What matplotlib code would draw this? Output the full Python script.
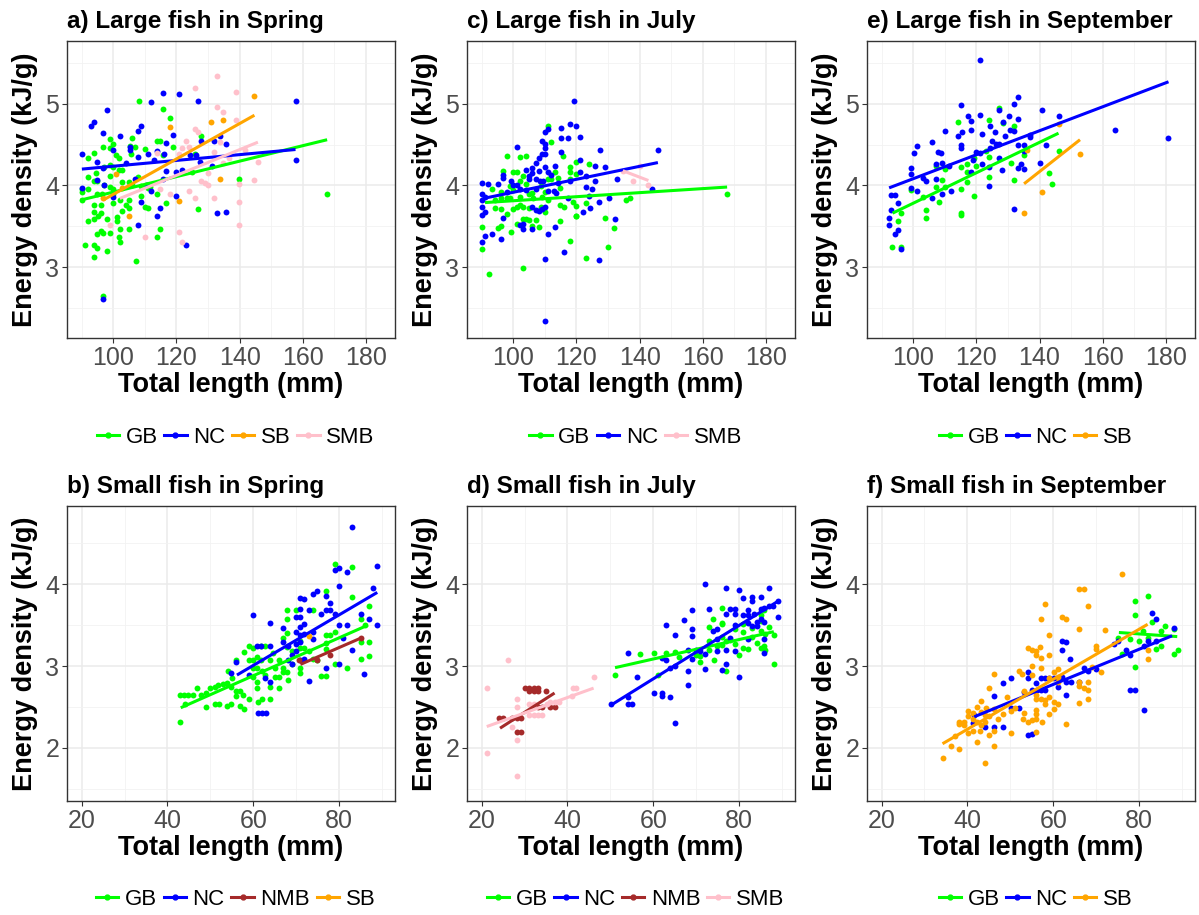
import matplotlib.pyplot as plt
from matplotlib.lines import Line2D

plt.rcParams['font.family'] = ['Liberation Sans', 'DejaVu Sans']

# site colours used in every panel
colors = {'GB': '#00FF00', 'NC': '#0000FF', 'NMB': '#A52A2A', 'SB': '#FFA500', 'SMB': '#FFC0CB'}

# ---------------- a) Large fish in Spring  (total length mm, energy density kJ/g)
a_gb = [(108.1,5.04),(115.9,4.94),(117.9,4.83),(99.1,4.57),(100.0,4.51),(96.8,4.47),(94.0,4.40),(92.1,4.33),
        (98.9,4.46),(100.8,4.37),(101.7,4.33),(105.3,4.48),(106.1,4.58),(106.8,4.47),(105.8,4.38),(110.0,4.45),
        (114.0,4.54),(114.7,4.54),(115.9,4.37),(118.9,4.47),(127.9,4.60),(126.0,4.38),(125.0,4.17),(139.8,4.08),
        (167.7,3.89),(98.9,4.25),(100.0,4.22),(101.9,4.19),(102.9,4.19),(97.0,4.22),(94.7,4.15),(92.1,4.10),
        (98.9,4.11),(94.0,4.06),(95.0,4.05),(97.1,4.01),(98.9,3.98),(100.0,3.95),(102.9,4.04),(105.0,4.04),
        (106.1,4.01),(107.9,4.10),(108.9,3.99),(110.5,4.01),(111.6,3.98),(90.0,3.96),(92.1,3.96),(90.0,3.92),
        (95.0,3.89),(96.6,3.90),(102.1,3.82),(100.0,3.79),(105.0,3.82),(113.9,3.89),(90.1,3.82),(93.9,3.76),
        (96.0,3.76),(94.0,3.67),(96.0,3.66),(95.3,3.63),(102.9,3.69),(104.2,3.76),(105.0,3.72),(110.0,3.73),
        (111.1,3.72),(116.8,3.78),(126.8,3.71),(92.1,3.57),(94.0,3.59),(97.9,3.59),(101.1,3.61),(101.1,3.57),
        (95.0,3.40),(96.0,3.44),(96.8,3.42),(98.9,3.42),(102.1,3.46),(101.9,3.37),(102.1,3.31),(105.0,3.46),
        (114.7,3.46),(113.9,3.37),(91.1,3.27),(94.0,3.27),(95.0,3.23),(94.0,3.12),(97.9,3.20),(107.1,3.07),
        (96.8,2.64),(100.0,3.90),(108.9,3.87),(111.1,3.97)]
a_nc = [(115.9,5.13),(120.7,5.12),(111.9,5.02),(126.8,5.04),(157.7,5.04),(98.1,4.92),(94.0,4.78),(93.1,4.73),
        (108.9,4.73),(108.0,4.67),(96.8,4.64),(102.1,4.61),(118.9,4.62),(133.8,4.61),(135.8,4.51),(131.8,4.55),
        (127.9,4.54),(116.8,4.52),(105.3,4.47),(105.3,4.44),(100.0,4.44),(114.0,4.42),(90.1,4.39),(111.0,4.39),
        (108.0,4.35),(95.0,4.29),(104.0,4.27),(113.0,4.31),(116.0,4.38),(124.2,4.37),(126.3,4.37),(127.4,4.29),
        (131.4,4.24),(157.7,4.31),(96.8,4.21),(116.8,4.18),(120.0,4.17),(121.9,4.19),(115.9,4.08),(107.0,4.08),
        (95.0,4.07),(97.1,4.01),(110.7,4.01),(112.1,3.93),(100.0,3.86),(119.9,3.87),(108.9,3.80),(114.8,3.72),
        (132.8,3.66),(135.8,3.67),(113.9,3.63),(108.0,3.52),(122.9,3.27),(96.8,2.61),(90.0,3.97)]
a_sb = [(144.7,5.09),(130.8,4.78),(134.7,4.80),(117.9,4.72),(100.8,4.14),(102.9,3.97),(96.8,3.84),(105.0,3.63),
        (120.8,3.81),(133.8,4.08)]
a_smb = [(132.8,5.34),(125.8,5.19),(138.9,5.14),(132.8,4.96),(134.7,4.90),(138.9,4.80),(125.8,4.69),(126.8,4.65),
         (122.9,4.55),(121.9,4.46),(124.0,4.47),(133.9,4.53),(131.8,4.41),(113.9,4.40),(120.7,4.38),(136.8,4.33),
         (134.7,4.27),(141.6,4.44),(145.8,4.29),(130.0,4.15),(127.9,4.05),(128.9,4.03),(130.0,4.00),(139.8,4.02),
         (144.7,4.07),(123.9,3.93),(117.9,3.90),(125.8,3.84),(131.8,3.84),(139.8,3.80),(139.8,3.52),(98.9,3.52),
         (110.0,3.37),(120.8,3.43),(121.9,3.31),(114.8,3.96)]
a_gb_fit = [(89.7, 3.82), (167.7, 4.56)]
a_nc_fit = [(90.1, 4.20), (157.7, 4.44)]
a_sb_fit = [(96.8, 3.82), (144.7, 4.86)]
a_smb_fit = [(102.1, 3.84), (145.8, 4.53)]

# ---------------- c) Large fish in July
c_gb = [(111.1,4.73),(112.1,4.53),(98.2,4.36),(102.1,4.35),(104.1,4.36),(115.9,4.36),(120.0,4.29),(124.0,4.26),
        (96.8,4.18),(100.0,4.16),(101.1,4.16),(103.2,4.12),(102.1,4.06),(113.2,4.16),(114.2,4.09),(111.1,4.08),
        (112.1,4.08),(117.9,4.23),(117.9,4.17),(120.0,4.14),(118.1,4.08),(93.2,3.95),(96.3,3.92),(100.0,3.94),
        (104.2,4.02),(106.1,3.91),(108.9,3.99),(110.0,3.92),(114.7,3.97),(94.2,3.82),(96.3,3.84),(97.9,3.85),
        (98.9,3.84),(102.1,3.86),(105.0,3.89),(106.3,3.84),(111.1,3.82),(109.2,3.86),(118.9,3.80),(120.0,3.75),
        (122.9,3.78),(135.8,3.82),(137.1,3.84),(94.2,3.72),(96.3,3.71),(100.0,3.71),(101.1,3.74),(102.1,3.76),
        (103.2,3.73),(105.0,3.72),(108.9,3.74),(114.9,3.76),(116.0,3.74),(98.0,3.65),(110.0,3.67),(120.0,3.63),
        (120.0,3.62),(103.2,3.59),(104.2,3.59),(105.0,3.58),(107.2,3.58),(114.9,3.57),(129.0,3.60),(101.1,3.53),
        (106.1,3.50),(108.1,3.49),(90.1,3.49),(95.1,3.48),(96.1,3.50),(99.2,3.43),(131.9,3.48),(118.1,3.32),
        (130.0,3.24),(90.1,3.22),(122.9,3.11),(103.2,2.99),(92.2,2.91),(167.7,3.90),(98.9,3.99)]
c_nc = [(119.1,5.03),(118.0,4.75),(120.0,4.73),(111.1,4.69),(110.2,4.65),(115.2,4.70),(115.2,4.58),(117.3,4.58),
        (121.1,4.59),(109.2,4.55),(110.2,4.51),(110.2,4.46),(101.1,4.47),(115.2,4.41),(109.2,4.39),(110.2,4.39),
        (108.1,4.33),(107.2,4.27),(106.1,4.21),(104.0,4.19),(108.1,4.18),(106.1,4.15),(110.2,4.23),(113.2,4.24),
        (121.1,4.31),(125.8,4.24),(129.0,4.23),(145.9,4.44),(127.4,4.44),(96.8,4.13),(96.8,4.09),(99.2,4.06),
        (95.1,4.02),(92.1,4.02),(90.1,4.03),(100.0,4.00),(101.1,4.00),(105.0,4.11),(105.0,4.08),(107.2,4.08),
        (108.4,4.06),(109.5,4.05),(111.1,4.16),(112.1,4.13),(114.2,4.03),(117.9,4.05),(121.1,4.16),(122.9,4.12),
        (125.8,4.05),(132.9,4.08),(143.9,3.95),(122.9,3.98),(125.0,3.95),(90.1,3.89),(91.1,3.86),(90.1,3.82),
        (90.1,3.74),(90.1,3.64),(91.1,3.68),(98.0,3.92),(102.1,3.95),(104.2,3.94),(107.2,3.95),(111.1,3.93),
        (113.0,3.93),(113.7,3.91),(117.3,3.85),(124.0,3.87),(127.2,3.80),(130.3,3.84),(106.1,3.73),(107.2,3.70),
        (108.1,3.69),(109.2,3.71),(110.2,3.73),(96.8,3.60),(103.2,3.53),(102.1,3.51),(103.2,3.46),(106.1,3.47),
        (113.2,3.49),(122.1,3.67),(124.2,3.72),(132.1,3.59),(91.2,3.38),(93.2,3.40),(96.1,3.34),(90.1,3.31),
        (111.1,3.41),(116.0,3.18),(110.2,3.10),(127.2,3.08),(110.2,2.34)]
c_smb = [(134.7,4.18),(140.0,4.24),(137.9,4.06),(142.8,4.00)]
c_gb_fit = [(91.1, 3.79), (167.7, 3.98)]
c_nc_fit = [(90.5, 3.84), (145.8, 4.28)]
c_smb_fit = [(134.7, 4.18), (142.8, 4.06)]

# ---------------- e) Large fish in September
e_gb = [(127.2,4.95),(114.1,4.78),(124.1,4.80),(128.4,4.77),(131.9,4.73),(123.2,4.42),(124.1,4.35),(119.1,4.34),
        (146.1,4.42),(135.1,4.37),(131.1,4.28),(117.1,4.26),(120.0,4.24),(107.2,4.24),(110.1,4.20),(115.1,4.22),
        (117.1,4.17),(109.2,4.07),(124.1,4.10),(117.1,4.04),(131.9,4.07),(110.1,3.98),(107.2,3.98),(115.1,3.96),
        (99.2,3.94),(103.2,3.86),(119.2,3.87),(108.2,3.80),(142.9,4.15),(143.9,4.02),(104.2,3.70),(104.2,3.60),
        (115.1,3.66),(115.1,3.64),(96.1,3.66),(95.3,3.56),(93.3,3.24),(96.2,3.24)]
e_nc = [(121.1,5.54),(115.1,4.99),(133.1,5.08),(131.9,5.00),(127.2,4.93),(140.9,4.93),(146.0,4.85),(117.3,4.85),
        (121.1,4.86),(130.2,4.85),(133.1,4.82),(118.3,4.79),(124.2,4.73),(128.4,4.78),(110.1,4.67),(115.6,4.65),
        (118.3,4.68),(121.9,4.63),(126.0,4.65),(130.7,4.68),(131.9,4.67),(129.0,4.60),(137.1,4.62),(137.1,4.59),
        (114.1,4.61),(106.1,4.53),(125.1,4.54),(126.1,4.51),(127.2,4.51),(133.1,4.50),(135.1,4.50),(115.1,4.50),
        (115.1,4.46),(142.0,4.49),(101.3,4.48),(100.2,4.40),(107.8,4.41),(108.8,4.40),(120.0,4.41),(121.1,4.40),
        (124.2,4.46),(135.1,4.42),(163.9,4.68),(180.8,4.58),(118.9,4.31),(121.9,4.26),(124.1,4.22),(128.0,4.19),
        (133.1,4.21),(135.1,4.20),(134.0,4.26),(140.0,4.28),(127.2,4.33),(109.2,4.27),(107.2,4.26),(99.2,4.21),
        (99.2,4.14),(103.1,4.09),(104.1,4.05),(107.2,4.08),(111.3,4.24),(118.3,4.17),(124.1,3.99),(99.2,3.97),
        (101.3,3.93),(109.2,3.89),(112.1,3.93),(106.1,3.84),(93.0,3.88),(94.2,3.88),(95.3,3.79),(93.1,3.70),
        (92.3,3.60),(92.3,3.52),(94.2,3.41),(95.3,3.45),(96.2,3.22),(131.9,3.71)]
e_sb = [(146.0,4.75),(136.0,4.44),(152.8,4.39),(140.9,3.92),(135.1,3.66)]
e_gb_fit = [(93.5, 3.66), (146.0, 4.64)]
e_nc_fit = [(92.4, 3.97), (180.8, 5.27)]
e_sb_fit = [(135.1, 4.02), (152.8, 4.56)]

# ---------------- b) Small fish in Spring
b_gb = [(43.0,2.31),(43.0,2.64),(43.9,2.64),(44.9,2.64),(45.9,2.64),(44.0,2.54),(47.0,2.73),(47.8,2.64),
        (48.9,2.67),(48.9,2.50),(50.0,2.73),(51.0,2.74),(51.0,2.54),(51.9,2.77),(52.1,2.54),(52.9,2.78),
        (53.9,2.79),(54.1,2.94),(53.9,2.51),(54.9,2.54),(54.9,2.74),(55.0,2.85),(56.0,3.07),(56.0,2.69),
        (56.0,2.63),(57.0,2.69),(57.0,2.51),(57.7,2.64),(57.9,2.47),(57.9,3.17),(58.9,3.24),(58.9,3.07),
        (58.9,2.60),(59.9,3.22),(59.9,3.07),(59.9,2.97),(59.9,2.87),(60.9,3.11),(60.9,2.97),(60.9,2.81),
        (60.9,2.73),(61.0,2.56),(61.9,3.24),(61.9,3.07),(62.0,2.94),(62.0,2.60),(62.8,3.24),(62.8,2.89),
        (64.0,2.60),(64.0,2.74),(64.0,3.07),(64.7,3.16),(65.0,2.97),(65.0,2.87),(65.9,3.07),(65.9,2.87),
        (65.9,2.73),(66.9,3.34),(66.9,2.97),(67.9,3.68),(67.9,3.58),(67.9,3.40),(67.9,3.23),(67.9,2.93),
        (68.0,2.83),(69.0,3.18),(69.0,3.02),(70.0,3.68),(71.0,3.30),(71.0,3.22),(71.0,2.97),(71.0,2.91),
        (71.9,3.22),(72.9,3.18),(73.9,3.68),(73.9,3.08),(74.9,3.07),(75.9,2.88),(76.9,3.92),(76.9,3.38),
        (76.9,3.28),(76.9,3.21),(76.9,2.88),(78.0,3.38),(79.0,3.42),(79.0,4.25),(79.0,3.03),(81.9,2.97),
        (82.9,4.21),(82.9,3.84),(85.0,3.57),(85.0,3.29),(85.0,3.08),(86.0,3.50),(86.9,3.73),(86.9,3.29),
        (86.9,3.12),(66.9,2.93)]
b_nc = [(82.9,4.70),(79.0,4.17),(79.9,4.20),(81.9,4.15),(88.9,4.22),(79.9,3.98),(87.9,3.95),(74.9,3.92),
        (73.9,3.88),(76.9,3.86),(71.0,3.83),(71.9,3.82),(78.0,3.77),(77.8,3.69),(76.9,3.69),(71.0,3.70),
        (72.9,3.68),(75.9,3.64),(79.0,3.64),(70.0,3.60),(71.0,3.60),(59.9,3.62),(85.0,3.64),(86.9,3.58),
        (79.9,3.50),(81.9,3.50),(88.9,3.50),(64.0,3.53),(71.9,3.52),(71.0,3.48),(66.9,3.46),(70.0,3.42),
        (71.0,3.38),(71.9,3.39),(73.9,3.42),(73.9,3.33),(81.0,3.34),(66.9,3.29),(70.0,3.27),(71.0,3.29),
        (60.9,3.25),(61.9,3.25),(64.0,3.25),(68.0,3.24),(82.9,3.19),(69.0,3.14),(70.0,3.18),(71.9,3.08),
        (71.0,3.07),(68.0,3.07),(69.0,3.03),(56.0,3.05),(79.9,3.03),(76.9,2.98),(58.9,2.89),(54.9,2.91),
        (62.8,2.85),(64.0,2.81),(72.9,2.82),(85.9,2.90),(61.0,2.42),(62.0,2.42),(63.0,2.42)]
b_nmb = [(70.7,3.07),(74.9,3.07),(78.0,3.13),(85.0,3.34)]
b_sb = [(72.9,3.37)]
b_gb_fit = [(43.1, 2.49), (86.7, 3.50)]
b_nc_fit = [(56.2, 2.89), (88.9, 3.90)]
b_nmb_fit = [(71.0, 3.02), (85.0, 3.34)]

# ---------------- d) Small fish in July
d_gb = [(51.1,2.89),(57.0,3.15),(60.1,3.16),(61.1,2.89),(63.0,3.16),(65.0,3.17),(65.9,3.11),(70.0,3.13),
        (71.0,3.12),(71.0,3.05),(72.9,3.31),(72.9,3.20),(72.9,3.48),(73.9,3.57),(74.1,3.07),(76.0,3.71),
        (76.0,3.53),(76.0,3.51),(76.0,3.36),(76.0,3.26),(74.9,3.24),(77.0,3.30),(77.0,2.94),(78.0,3.32),
        (79.0,3.27),(79.0,3.45),(80.1,3.14),(81.0,3.51),(81.0,3.42),(81.0,3.22),(82.0,3.21),(83.0,3.36),
        (83.0,3.46),(84.1,3.28),(85.0,3.62),(85.0,3.55),(85.0,3.43),(85.0,3.22),(85.9,3.68),(85.9,3.24),
        (87.0,3.48),(88.1,3.38),(88.1,3.02),(86.0,3.39),(86.0,3.19)]
d_nc = [(72.0,4.00),(77.0,3.95),(80.1,3.93),(87.0,3.95),(81.0,3.83),(83.0,3.85),(85.0,3.84),(83.0,3.79),
        (89.0,3.79),(78.0,3.70),(79.0,3.70),(82.0,3.68),(85.0,3.70),(85.9,3.71),(87.0,3.74),(88.0,3.73),
        (69.0,3.69),(72.9,3.70),(77.0,3.64),(79.0,3.64),(81.0,3.62),(82.0,3.62),(83.4,3.64),(89.0,3.60),
        (67.1,3.56),(84.1,3.54),(85.0,3.58),(85.9,3.54),(63.0,3.50),(79.0,3.50),(82.0,3.53),(83.0,3.49),
        (84.1,3.49),(69.0,3.45),(73.9,3.43),(74.9,3.45),(65.0,3.38),(69.0,3.37),(74.9,3.33),(78.0,3.34),
        (82.0,3.33),(85.9,3.33),(70.0,3.20),(71.0,3.18),(72.0,3.15),(74.9,3.18),(77.0,3.19),(79.0,3.18),
        (85.9,3.16),(68.0,3.19),(69.0,3.08),(54.1,3.16),(62.0,3.10),(63.0,3.07),(77.0,3.03),(72.0,2.96),
        (76.0,2.95),(64.0,2.98),(65.0,3.00),(68.0,2.94),(56.2,2.87),(80.1,2.86),(68.0,2.77),(60.1,2.67),
        (62.0,2.67),(62.0,2.63),(64.0,2.62),(54.1,2.62),(54.1,2.53),(55.0,2.53),(50.1,2.53),(65.0,2.30)]
d_nmb = [(24.1,2.36),(25.1,2.36),(27.2,2.36),(28.2,2.36),(29.2,2.36),(28.2,2.19),(29.2,2.19),(30.1,2.73),
         (31.1,2.73),(32.1,2.73),(33.1,2.73),(31.1,2.69),(32.1,2.69),(33.1,2.69),(35.0,2.69),(33.1,2.50),
         (34.0,2.50),(36.0,2.50),(37.0,2.50)]
d_smb = [(21.2,2.73),(21.2,1.94),(26.1,3.07),(28.2,2.60),(28.2,2.50),(28.2,2.10),(28.2,1.65),(27.2,2.26),
         (31.1,2.53),(32.1,2.53),(31.1,2.40),(32.1,2.40),(33.1,2.40),(34.0,2.40),(35.2,2.53),(36.0,2.56),
         (37.0,2.56),(38.1,2.56),(41.2,2.73),(42.0,2.73),(41.0,2.63),(46.1,2.86)]
d_gb_fit = [(51.1, 2.98), (88.1, 3.42)]
d_nc_fit = [(50.1, 2.52), (89.0, 3.79)]
d_nmb_fit = [(24.3, 2.24), (37.0, 2.67)]
d_smb_fit = [(21.2, 2.26), (46.1, 2.73)]

# ---------------- f) Small fish in September
f_gb = [(82.0,3.86),(79.0,3.80),(79.0,3.62),(83.0,3.54),(86.0,3.49),(85.0,3.43),(88.1,3.45),(80.9,3.43),
        (75.0,3.34),(78.0,3.33),(80.1,3.31),(82.0,3.34),(84.0,3.21),(85.0,3.24),(89.0,3.20),(88.1,3.15),
        (76.0,3.15),(79.0,2.99)]
f_nc = [(83.0,3.65),(84.0,3.57),(88.1,3.47),(62.0,3.31),(63.0,3.29),(62.0,3.20),(74.1,3.27),(75.0,3.31),
        (77.0,3.20),(78.0,3.13),(81.1,3.25),(82.0,3.31),(84.0,3.31),(64.0,3.09),(67.1,2.97),(68.1,2.94),
        (70.0,2.96),(54.1,2.93),(50.1,2.85),(54.1,2.85),(57.1,2.85),(58.1,2.85),(59.1,2.85),(60.1,2.85),
        (61.0,2.85),(62.0,2.86),(63.0,2.81),(64.1,2.81),(66.1,2.81),(61.0,2.74),(56.2,2.71),(55.0,2.71),
        (57.1,2.71),(58.1,2.71),(53.1,2.68),(46.1,2.63),(48.2,2.79),(63.0,2.64),(78.0,2.71),(79.0,2.71),
        (52.1,2.49),(50.1,2.49),(41.2,2.30),(44.1,2.25),(46.1,2.25),(48.2,2.25),(54.1,2.16),(55.0,2.17),
        (81.1,2.46),(56.0,2.79),(41.6,2.40)]
f_sb = [(76.0,4.13),(66.1,3.94),(67.1,3.94),(58.1,3.76),(68.1,3.73),(62.0,3.60),(63.0,3.57),(57.1,3.58),
        (66.1,3.45),(72.1,3.44),(59.1,3.38),(70.0,3.25),(70.0,3.21),(54.1,3.22),(55.0,3.20),(56.0,3.18),
        (57.0,3.23),(56.0,3.14),(57.1,3.10),(59.1,3.13),(82.0,3.20),(82.0,3.09),(52.1,2.94),(55.0,3.00),
        (57.1,2.98),(60.1,2.93),(61.0,2.96),(69.0,2.99),(71.1,2.93),(46.1,2.90),(55.0,2.89),(59.1,2.85),
        (61.0,2.86),(61.0,2.80),(66.1,2.81),(66.1,2.76),(67.1,2.73),(68.1,2.71),(68.1,2.60),(66.1,2.55),
        (45.1,2.73),(53.2,2.69),(56.0,2.64),(56.0,2.60),(57.1,2.60),(58.1,2.58),(59.1,2.62),(58.1,2.53),
        (60.1,2.56),(61.0,2.54),(60.1,2.48),(59.1,2.41),(49.2,2.62),(50.1,2.45),(51.1,2.49),(53.2,2.43),
        (56.0,2.46),(56.0,2.41),(56.0,2.35),(54.1,2.32),(55.0,2.34),(57.4,2.32),(53.0,2.35),(56.0,2.19),
        (63.0,2.29),(43.2,2.57),(42.2,2.50),(44.4,2.49),(46.2,2.48),(40.1,2.45),(41.2,2.42),(43.2,2.44),
        (44.1,2.40),(45.1,2.39),(48.2,2.41),(40.1,2.39),(41.2,2.35),(42.2,2.32),(43.1,2.28),(44.1,2.31),
        (47.1,2.35),(38.1,2.32),(38.1,2.29),(39.1,2.32),(39.1,2.28),(41.2,2.21),(40.1,2.18),(43.0,2.21),
        (45.1,2.16),(46.1,2.21),(50.1,2.18),(42.2,2.07),(37.1,2.14),(36.1,2.02),(46.1,2.02),(38.1,1.98),
        (34.2,1.87),(44.1,1.82),(52.7,2.90),(68.1,2.80)]
f_gb_fit = [(75.3, 3.41), (88.9, 3.36)]
f_nc_fit = [(41.6, 2.38), (87.7, 3.37)]
f_sb_fit = [(34.2, 2.05), (82.0, 3.51)]

panels = [
    ([0.0559, 0.6306, 0.2736, 0.3246], 'a) Large fish in Spring', 'large',
     {'GB': a_gb, 'NC': a_nc, 'SB': a_sb, 'SMB': a_smb},
     {'GB': a_gb_fit, 'NC': a_nc_fit, 'SB': a_sb_fit, 'SMB': a_smb_fit}),
    ([0.3895, 0.6306, 0.2736, 0.3246], 'c) Large fish in July', 'large',
     {'GB': c_gb, 'NC': c_nc, 'SMB': c_smb},
     {'GB': c_gb_fit, 'NC': c_nc_fit, 'SMB': c_smb_fit}),
    ([0.7231, 0.6306, 0.2736, 0.3246], 'e) Large fish in September', 'large',
     {'GB': e_gb, 'NC': e_nc, 'SB': e_sb},
     {'GB': e_gb_fit, 'NC': e_nc_fit, 'SB': e_sb_fit}),
    ([0.0559, 0.1246, 0.2736, 0.3227], 'b) Small fish in Spring', 'small',
     {'GB': b_gb, 'NC': b_nc, 'NMB': b_nmb, 'SB': b_sb},
     {'GB': b_gb_fit, 'NC': b_nc_fit, 'NMB': b_nmb_fit}),
    ([0.3895, 0.1246, 0.2736, 0.3227], 'd) Small fish in July', 'small',
     {'GB': d_gb, 'NC': d_nc, 'NMB': d_nmb, 'SMB': d_smb},
     {'GB': d_gb_fit, 'NC': d_nc_fit, 'NMB': d_nmb_fit, 'SMB': d_smb_fit}),
    ([0.7231, 0.1246, 0.2736, 0.3227], 'f) Small fish in September', 'small',
     {'GB': f_gb, 'NC': f_nc, 'SB': f_sb},
     {'GB': f_gb_fit, 'NC': f_nc_fit, 'SB': f_sb_fit}),
]

fig = plt.figure(figsize=(11.99, 9.15), dpi=100)

for pos, title, size, pts, fits in panels:
    ax = fig.add_axes(pos)
    for site, p in pts.items():
        ax.scatter([v[0] for v in p], [v[1] for v in p], s=18, color=colors[site],
                   linewidths=0, zorder=2)
    for site, f in fits.items():
        ax.plot([f[0][0], f[1][0]], [f[0][1], f[1][1]], color=colors[site], lw=2.2,
                solid_capstyle='butt', zorder=3)

    if size == 'large':
        ax.set_xlim(85.4, 189.2)
        ax.set_ylim(2.13, 5.77)
        ax.set_xticks([100, 120, 140, 160, 180])
        ax.set_xticks([90, 110, 130, 150, 170], minor=True)
        ax.set_yticks([3, 4, 5])
        ax.set_yticks([2.5, 3.5, 4.5, 5.5], minor=True)
    else:
        ax.set_xlim(16.6, 93.05)
        ax.set_ylim(1.35, 4.96)
        ax.set_xticks([20, 40, 60, 80])
        ax.set_xticks([30, 50, 70, 90], minor=True)
        ax.set_yticks([2, 3, 4])
        ax.set_yticks([1.5, 2.5, 3.5, 4.5], minor=True)

    ax.grid(True, which='major', color='#EBEBEB', lw=1.1)
    ax.grid(True, which='minor', color='#F2F2F2', lw=0.6)
    ax.set_axisbelow(True)
    for sp in ax.spines.values():
        sp.set_color('#333333')
        sp.set_linewidth(1.0)
    ax.tick_params(which='major', length=3.5, width=0.8, color='#333333',
                   labelsize=18, labelcolor='#4D4D4D', pad=2)
    ax.tick_params(which='minor', length=0)

    ax.set_title(title, loc='left', fontsize=17.5, fontweight='bold', pad=9)
    ax.set_xlabel('Total length (mm)', fontsize=19.5, fontweight='bold', labelpad=2)
    ax.set_ylabel('Energy density (kJ/g)', fontsize=19.5, fontweight='bold', labelpad=5)

    handles = [Line2D([], [], color=colors[s], lw=2.2, marker='o', markersize=3.5) for s in pts]
    ax.legend(handles, list(pts.keys()), loc='center', bbox_to_anchor=(0.514, -0.334),
              ncol=len(pts), frameon=False, fontsize=16, handlelength=1.0,
              handletextpad=0.3, columnspacing=0.3, numpoints=1)

fig.savefig('out.png', dpi=100)
